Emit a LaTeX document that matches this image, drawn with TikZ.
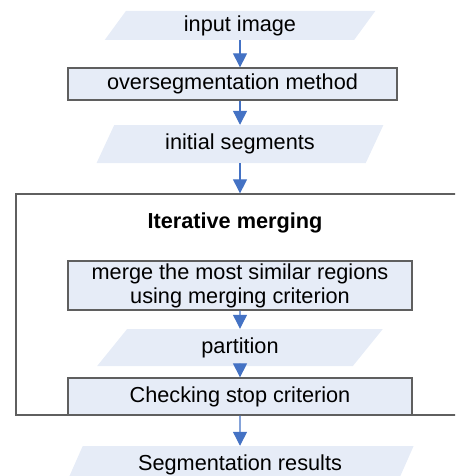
\documentclass[tikz,border=0pt]{standalone}
\usepackage{fontspec}
\setmainfont{Liberation Sans}
\usepackage{tikz}
\usetikzlibrary{arrows.meta,shapes.geometric,positioning,calc}
\usepackage{xcolor}
\definecolor{flowblue}{RGB}{68,114,196}
\definecolor{boxfill}{RGB}{230,236,247}
\definecolor{boxline}{RGB}{95,95,95}
\tikzset{
  % process box
  procbox/.style={rectangle, draw=boxline, line width=1.3pt, fill=boxfill, inner sep=2pt,
                  font=\fontsize{21.7}{24}\selectfont, align=center},
  % data parallelogram
  databox/.style={trapezium, trapezium left angle=66, trapezium right angle=114,
                  trapezium stretches=true, fill=boxfill, inner sep=2pt,
                  font=\fontsize{21.7}{24}\selectfont},
  % loop frame
  loopbox/.style={rectangle, draw=boxline, line width=1.3pt},
  % flow arrow
  flowarrow/.style={-{Triangle[length=14pt,width=14pt]}, line width=1.2pt, flowblue},
}

\begin{document}
\begin{tikzpicture}[x=1pt,y=-1pt]
  \clip (0,0) rectangle (455,476);
  % loop frame
  \node[loopbox, minimum width=454pt, minimum height=221pt] (iter) at (243,304.5) {};
  \node[font=\fontsize{21.7}{24}\selectfont\bfseries] (itertitle) at (235,223) {Iterative merging};
  % steps
  \node[databox, minimum width=271pt, minimum height=29pt] (inimg) at (240,25.5) {input image};
  \node[procbox, minimum width=329pt, minimum height=32pt] (overseg) at (232.5,84) {oversegmentation method};
  \node[databox, minimum width=287pt, minimum height=38pt] (initseg) at (240,144) {initial segments};
  \node[procbox, minimum width=344pt, minimum height=49pt] (merge) at (240,285.5)
    {merge the most similar regions\\using merging criterion};
  \node[databox, minimum width=286pt, minimum height=37pt] (part) at (240,347.5) {partition};
  \node[procbox, minimum width=344pt, minimum height=37pt] (check) at (240,396.5) {Checking stop criterion};
  \node[databox, minimum width=348pt, minimum height=37pt] (segres) at (240,464.5) {Segmentation results};
  % arrows
  \draw[flowarrow] (inimg.south) -- (inimg.south |- overseg.north);
  \draw[flowarrow] (initseg.north |- overseg.south) -- (initseg.north);
  \draw[flowarrow] (initseg.south) -- (initseg.south |- iter.north);
  \draw[flowarrow] (merge.south) -- (part.north);
  \draw[flowarrow] (part.south) -- (check.north);
  \draw[flowarrow] (check.south) -- (segres.north);
\end{tikzpicture}
\end{document}
